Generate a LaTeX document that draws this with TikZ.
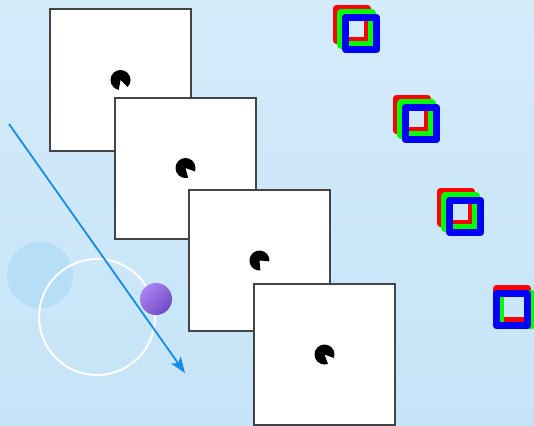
\documentclass[tikz,border=0pt]{standalone}
\usetikzlibrary{arrows.meta}
\definecolor{bgtop}{RGB}{212,235,250}
\definecolor{bgbottom}{RGB}{198,228,248}
\definecolor{framegray}{RGB}{68,68,68}
\definecolor{spotblue}{RGB}{182,222,247}
\definecolor{arrowblue}{RGB}{20,140,230}
\definecolor{ballhi}{RGB}{170,132,242}
\definecolor{balllo}{RGB}{112,74,196}
\begin{document}
\begin{tikzpicture}[x=1pt,y=-1pt,
  frame/.style={draw=framegray,line width=2pt,fill=white,minimum size=141pt,inner sep=0pt},
  layer/.style={line width=7.5pt,line join=round}]
\shade[top color=bgtop,bottom color=bgbottom] (0,0) rectangle (534,425);
\useasboundingbox (0,0) rectangle (534,425);

% circles on the left
\fill[spotblue] (40,275) circle (33);
\draw[white,line width=2pt] (97,317) circle (58);
\shade[left color=ballhi,right color=balllo,shading angle=45] (156,299) circle (16);

\coordinate (tail) at (9,124);
\coordinate (tip) at (185,373);
\draw[arrowblue,line width=1.8pt,-{Stealth[length=16pt,width=12pt,inset=4pt]}] (tail) -- (tip);

% frames, each with its pacman
\foreach \name/\fx/\fy/\ma/\mb in {f1/120.5/80/-100/-45, f2/185.5/168/-75/-20,
    f3/259.5/260.5/-85/-5, f4/324.5/354.5/-70/-20}
{
  \node[frame] (\name) at (\fx,\fy) {};
  \fill (\name.center) -- ++(-\mb:10) arc[start angle=-\mb,end angle=-\ma-360,radius=10] -- cycle;
}

% stacked rgb squares
\foreach \bx/\by/\rx/\ry/\gx/\gy in {342/14/-9/-9/-4.5/-4.5, 402/104/-9/-9/-4.5/-4.5,
    446/197/-9/-9/-4.5/-4.5, 493/290/0/-5/4/0}
{
  \draw[layer,red] (\bx+\rx+3.5,\by+\ry+3.5) rectangle ++(31,32);
  \draw[layer,green] (\bx+\gx+3.5,\by+\gy+3.5) rectangle ++(31,32);
  \draw[layer,blue] (\bx+3.5,\by+3.5) rectangle ++(31,32);
}
\end{tikzpicture}
\end{document}
